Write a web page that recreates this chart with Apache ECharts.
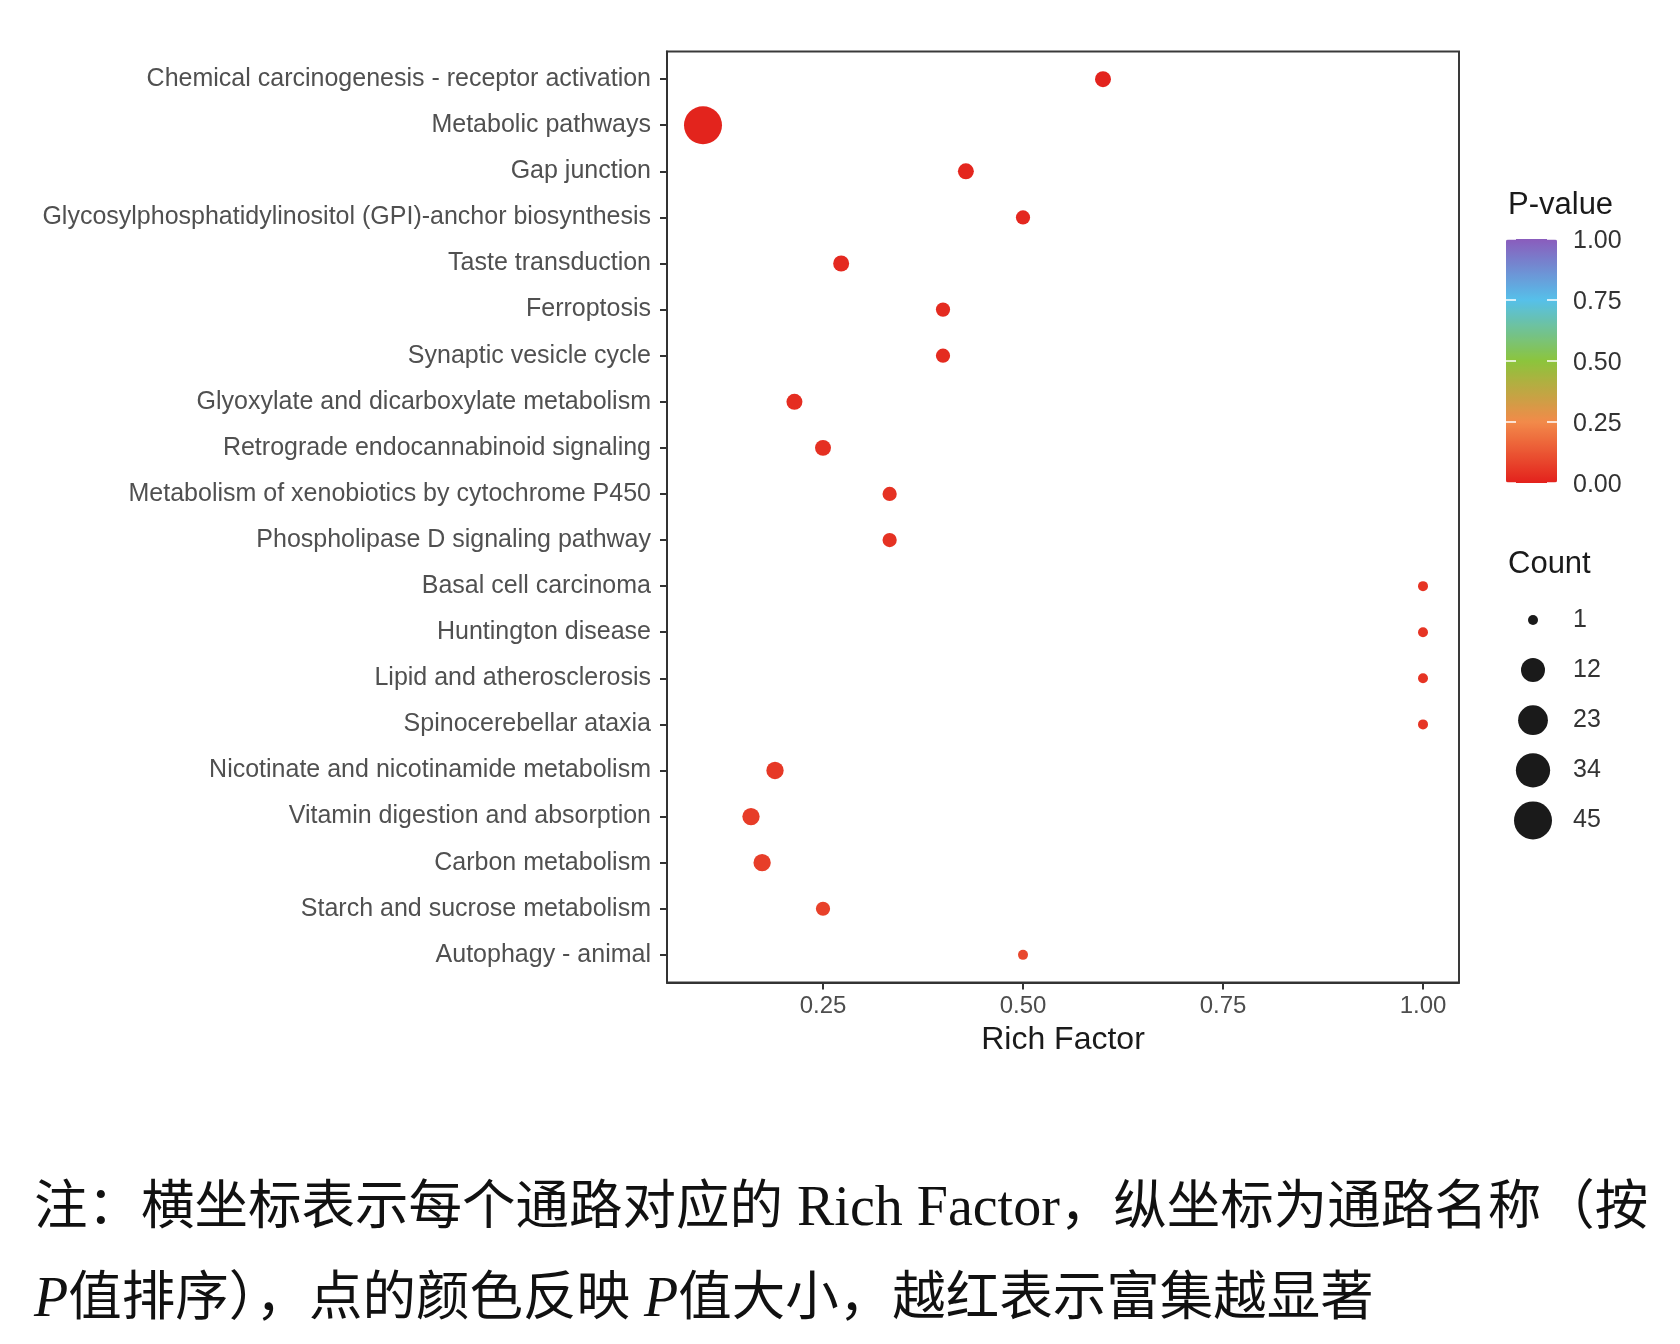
<!DOCTYPE html>
<html>
<head>
<meta charset="utf-8">
<script src="https://cdn.jsdelivr.net/npm/echarts@6/dist/echarts.min.js"></script>
<style>
  html, body { margin: 0; padding: 0; background: #fff; }
  #main { width: 1680px; height: 1344px; }
</style>
</head>
<body>
<div id="main"></div>
<script>
// 通路名称（按 P 值排序，从上到下）
var categories = [
  'Chemical carcinogenesis - receptor activation',
  'Metabolic pathways',
  'Gap junction',
  'Glycosylphosphatidylinositol (GPI)-anchor biosynthesis',
  'Taste transduction',
  'Ferroptosis',
  'Synaptic vesicle cycle',
  'Glyoxylate and dicarboxylate metabolism',
  'Retrograde endocannabinoid signaling',
  'Metabolism of xenobiotics by cytochrome P450',
  'Phospholipase D signaling pathway',
  'Basal cell carcinoma',
  'Huntington disease',
  'Lipid and atherosclerosis',
  'Spinocerebellar ataxia',
  'Nicotinate and nicotinamide metabolism',
  'Vitamin digestion and absorption',
  'Carbon metabolism',
  'Starch and sucrose metabolism',
  'Autophagy - animal'
];
var richFactor = [0.6, 0.1, 0.4286, 0.5, 0.2727, 0.4, 0.4, 0.2143, 0.25, 0.3333,
                  0.3333, 1.0, 1.0, 1.0, 1.0, 0.19, 0.16, 0.1739, 0.25, 0.5];
var geneCount  = [3, 45, 3, 2, 3, 2, 2, 3, 3, 2,
                  2, 1, 1, 1, 1, 4, 4, 4, 2, 1];
var pValue     = [0.004, 0.006, 0.012, 0.015, 0.02, 0.024, 0.024, 0.028, 0.035, 0.04,
                  0.04, 0.045, 0.045, 0.045, 0.045, 0.055, 0.065, 0.07, 0.075, 0.09];

var xTicks = [0.25, 0.50, 0.75, 1.00];
var pTicks = [1.00, 0.75, 0.50, 0.25, 0.00];
var countBreaks = [1, 12, 23, 34, 45];

var pColors = ['#e3211c', '#f28a4a', '#8cc43c', '#56c0ea', '#8a5cbc'];

// 点大小：面积映射，和 ggplot 的 scale_size 类似
var cMin = Math.min.apply(null, geneCount), cMax = Math.max.apply(null, geneCount);
function dotSize(c) {
  return 10 + 28 * Math.sqrt((c - cMin) / (cMax - cMin));
}

// x 轴两端各扩 5%
var rMin = Math.min.apply(null, richFactor), rMax = Math.max.apply(null, richFactor);
var xPad = (rMax - rMin) * 0.05;

var grid = { left: 667, top: 51.5, width: 792, height: 931 };
var idx = categories.map(function (c, i) { return i; });

var data = categories.map(function (c, i) {
  return [richFactor[i], i, pValue[i], geneCount[i]];
});

var sans = '"Liberation Sans", Arial, sans-serif';

// 右侧图例
var barLeft = 1506, barTop = 239, barBottom = 483, barW = 51;
var legendGraphics = [];
legendGraphics.push({
  type: 'text', left: 1508, top: 190,
  style: { text: 'P-value', fill: '#1a1a1a', font: '31px ' + sans }
});
pTicks.forEach(function (t) {
  var y = barBottom - (barBottom - barTop) * t;
  legendGraphics.push({
    type: 'text', x: 1573, y: y + 2,
    style: { text: t.toFixed(2), fill: '#333', font: '25px ' + sans, textVerticalAlign: 'middle' }
  });
  legendGraphics.push({ type: 'line', z: 100, shape: { x1: barLeft, y1: y, x2: barLeft + 10, y2: y },
    style: { stroke: '#fff', lineWidth: 1.5 } });
  legendGraphics.push({ type: 'line', z: 100, shape: { x1: barLeft + barW - 10, y1: y, x2: barLeft + barW, y2: y },
    style: { stroke: '#fff', lineWidth: 1.5 } });
});
legendGraphics.push({
  type: 'text', left: 1508, top: 549,
  style: { text: 'Count', fill: '#1a1a1a', font: '31px ' + sans }
});
countBreaks.forEach(function (c, i) {
  var y = 620 + i * 50.1;
  legendGraphics.push({
    type: 'circle', shape: { cx: 1533, cy: y, r: dotSize(c) / 2 },
    style: { fill: '#1a1a1a' }
  });
  legendGraphics.push({
    type: 'text', x: 1573, y: y,
    style: { text: String(c), fill: '#333', font: '25px ' + sans, textVerticalAlign: 'middle' }
  });
});

// 图注
var capFont = '"Liberation Serif", "Noto Sans CJK SC", serif';
var capRich = {
  n: { fontSize: 53.5, fontFamily: capFont, fill: '#111' },
  e: { fontSize: 56, fontFamily: capFont, fill: '#111' },
  p: { fontSize: 56, fontFamily: capFont, fontStyle: 'italic', fill: '#111' }
};
legendGraphics.push({
  type: 'text', x: 34, y: 1210,
  style: { text: '{n|注：横坐标表示每个通路对应的}{e| Rich Factor}{n|，纵坐标为通路名称（按}',
           rich: capRich, textVerticalAlign: 'middle' }
});
legendGraphics.push({
  type: 'text', x: 34, y: 1301,
  style: { text: '{p|P}{n|值排序），点的颜色反映}{p| P}{n|值大小，越红表示富集越显著}',
           rich: capRich, textVerticalAlign: 'middle' }
});

var myChart = echarts.init(document.getElementById('main'));
var option = {
  backgroundColor: '#fff',
  animation: false,
  textStyle: { fontFamily: sans },
  grid: {
    left: grid.left, top: grid.top, width: grid.width, height: grid.height,
    show: true, borderColor: '#3a3a3a', borderWidth: 2, backgroundColor: '#fff'
  },
  xAxis: {
    type: 'value',
    min: rMin - xPad, max: rMax + xPad,
    splitLine: { show: false },
    axisLine: { show: true, onZero: false, lineStyle: { color: '#333', width: 2 } },
    axisTick: { show: true, length: 7, customValues: xTicks, lineStyle: { color: '#333', width: 2 } },
    axisLabel: {
      customValues: xTicks, margin: 12, color: '#4d4d4d', fontSize: 24,
      formatter: function (v) { return v.toFixed(2); }
    },
    name: 'Rich Factor', nameLocation: 'middle', nameGap: 42,
    nameTextStyle: { color: '#1a1a1a', fontSize: 32 }
  },
  yAxis: {
    type: 'value', inverse: true,
    min: -0.6, max: categories.length - 1 + 0.6,
    splitLine: { show: false },
    axisLine: { show: true, onZero: false, lineStyle: { color: '#333', width: 2 } },
    axisTick: { show: true, length: 7, customValues: idx, lineStyle: { color: '#333', width: 2 } },
    axisLabel: {
      customValues: idx, margin: 16, color: '#505050', fontSize: 25,
      formatter: function (v) { return categories[Math.round(v)]; }
    }
  },
  visualMap: {
    type: 'continuous', seriesIndex: 0, dimension: 2,
    min: 0, max: 1, calculable: false, hoverLink: false,
    text: null, showLabel: false,
    orient: 'vertical', left: barLeft, top: barTop, padding: 0,
    itemWidth: barW, itemHeight: barBottom - barTop,
    inRange: { color: pColors }
  },
  series: [{
    type: 'scatter',
    data: data,
    symbolSize: function (v) { return dotSize(v[3]); },
    itemStyle: { opacity: 1 }
  }],
  graphic: legendGraphics
};
myChart.setOption(option);
</script>
</body>
</html>
